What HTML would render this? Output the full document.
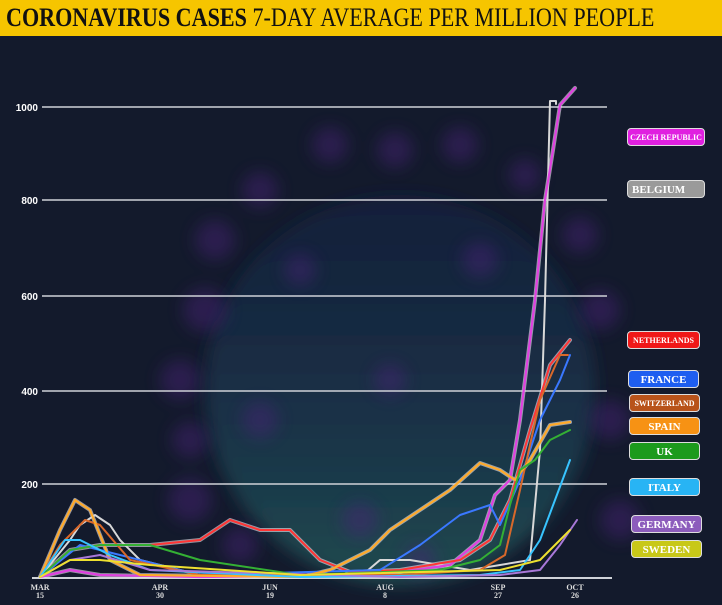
<!DOCTYPE html>
<html><head><style>
html,body{margin:0;padding:0;width:722px;height:605px;overflow:hidden;background:#131a2c;}
.hdr{position:absolute;left:0;top:0;width:722px;height:36px;background:#f6c500;font-family:"Liberation Serif",serif;white-space:nowrap;}
.hdr span{position:absolute;top:3px;font-size:26px;color:#111;transform:scaleX(0.85);transform-origin:left top;}
.lg{position:absolute;height:18px;border-radius:4px;border:1.5px solid #ddd;color:#fff;font:bold 11px "Liberation Serif",serif;text-align:center;line-height:18px;box-sizing:border-box;}
</style></head><body>
<svg width="722" height="605" style="position:absolute;left:0;top:0">
<defs>
<linearGradient id="vt" x1="0" y1="0" x2="0" y2="1">
<stop offset="0" stop-color="#162448" stop-opacity="0.5"/>
<stop offset="0.55" stop-color="#1c4058" stop-opacity="0.6"/>
<stop offset="1" stop-color="#25605f" stop-opacity="0.7"/>
</linearGradient>
<filter id="b"><feGaussianBlur stdDeviation="8"/></filter>
</defs>
<rect x="0" y="36" width="722" height="569" fill="#131a2c"/>
<circle cx="400" cy="390" r="195" fill="url(#vt)" filter="url(#b)"/>
<g fill="#4a2378" opacity="0.45" filter="url(#b)">
<circle cx="330" cy="145" r="18"/><circle cx="395" cy="150" r="18"/><circle cx="460" cy="145" r="18"/>
<circle cx="260" cy="190" r="18"/><circle cx="525" cy="175" r="16"/><circle cx="215" cy="240" r="20"/>
<circle cx="580" cy="235" r="18"/><circle cx="205" cy="310" r="22"/><circle cx="600" cy="310" r="20"/>
<circle cx="180" cy="380" r="20"/><circle cx="190" cy="440" r="18"/><circle cx="610" cy="420" r="20"/>
<circle cx="190" cy="500" r="22"/><circle cx="240" cy="545" r="18"/><circle cx="620" cy="520" r="20"/>
<circle cx="300" cy="270" r="16"/><circle cx="480" cy="260" r="18"/><circle cx="390" cy="380" r="16"/>
<circle cx="260" cy="420" r="18"/><circle cx="360" cy="520" r="18"/><circle cx="420" cy="560" r="16"/>
</g>
<g stroke="#cfd2d8" stroke-width="1.5">
<line x1="42" y1="107" x2="607" y2="107"/><line x1="42" y1="200" x2="607" y2="200"/>
<line x1="42" y1="296" x2="607" y2="296"/><line x1="42" y1="391" x2="607" y2="391"/>
<line x1="42" y1="484" x2="607" y2="484"/><line x1="32" y1="578" x2="612" y2="578" stroke-width="2"/>
</g>
<g font-family="Liberation Sans,sans-serif" font-weight="bold" font-size="10" fill="#fff" text-anchor="end">
<text x="38" y="111">1000</text><text x="38" y="204">800</text><text x="38" y="300">600</text>
<text x="38" y="395">400</text><text x="38" y="488">200</text>
</g>
<g font-family="Liberation Serif,serif" font-weight="bold" font-size="8" fill="#ddd" text-anchor="middle">
<text x="40" y="590">MAR</text><text x="40" y="598">15</text>
<text x="160" y="590">APR</text><text x="160" y="598">30</text>
<text x="270" y="590">JUN</text><text x="270" y="598">19</text>
<text x="385" y="590">AUG</text><text x="385" y="598">8</text>
<text x="498" y="590">SEP</text><text x="498" y="598">27</text>
<text x="575" y="590">OCT</text><text x="575" y="598">26</text>
</g>
<g fill="none" stroke-linejoin="round" stroke-linecap="round">
<g stroke="#e8e8f0" stroke-width="4" opacity="0.6">
<polyline points="40,577 70,570 100,575 200,577 380,575 450,565 480,540 495,495 510,480 520,420 535,300 545,200 553,150 560,105 575,88"/>
<polyline points="40,577 70,550 100,545 150,545 200,540 230,520 260,530 290,530 320,560 350,572 400,570 460,560 490,540 510,500 530,430 550,365 570,340"/>
<polyline points="40,577 60,530 75,500 90,510 110,560 140,575 300,577 330,570 370,550 390,530 420,510 450,490 480,463 500,470 515,480 530,460 550,425 570,422"/>
</g>
<polyline stroke="#d8d8d8" stroke-width="2" points="40,577 70,540 80,525 95,515 110,525 120,540 140,560 200,575 360,577 380,560 410,560 470,570 530,560 540,450 545,300 550,101 556,101 556,104"/>
<polyline stroke="#e040e0" stroke-width="2.2" points="40,577 70,570 100,575 200,577 380,575 450,565 480,540 495,495 510,480 520,420 535,300 545,200 553,150 560,105 575,88"/>
<polyline stroke="#ff3535" stroke-width="2" points="40,577 70,550 100,545 150,545 200,540 230,520 260,530 290,530 320,560 350,572 400,570 460,560 490,540 510,500 530,430 550,365 570,340"/>
<polyline stroke="#3a78ff" stroke-width="2" points="40,577 80,545 120,555 200,575 380,570 420,545 460,515 490,505 500,525 520,480 540,420 560,380 570,355"/>
<polyline stroke="#d8682a" stroke-width="2" points="40,577 60,545 85,520 100,525 130,560 200,575 400,575 480,570 505,555 520,490 540,400 560,355 568,355"/>
<polyline stroke="#ffaa2a" stroke-width="2.2" points="40,577 60,530 75,500 90,510 110,560 140,575 300,577 330,570 370,550 390,530 420,510 450,490 480,463 500,470 515,480 530,460 550,425 570,422"/>
<polyline stroke="#34b034" stroke-width="2" points="40,577 70,550 100,545 150,545 200,560 300,575 440,570 480,560 500,545 510,505 520,470 535,460 550,440 570,430"/>
<polyline stroke="#38c4ff" stroke-width="2" points="40,577 65,540 80,540 110,555 150,570 300,577 480,575 520,570 540,540 555,500 570,460"/>
<polyline stroke="#a878d8" stroke-width="2" points="40,577 70,560 100,555 150,570 400,577 500,575 540,570 560,545 577,520"/>
<polyline stroke="#eee030" stroke-width="2" points="40,577 70,560 100,560 150,565 300,575 500,570 540,560 560,540 570,530"/>
</g>
</svg>
<div class="hdr"><span style="left:6px;font-weight:bold;">CORONAVIRUS CASES <span style="position:static;font-weight:normal;">7-DAY AVERAGE PER MILLION PEOPLE</span></span></div>
<div class="lg" style="left:627px;top:128px;width:78px;background:#e020e0;font-size:8px;">CZECH REPUBLIC</div>
<div class="lg" style="left:627px;top:180px;width:78px;background:#9a9a9a;text-align:left;padding-left:4px;">BELGIUM</div>
<div class="lg" style="left:627px;top:331px;width:73px;background:#f01818;font-size:8px;">NETHERLANDS</div>
<div class="lg" style="left:628px;top:370px;width:71px;background:#1e5ef0;">FRANCE</div>
<div class="lg" style="left:629px;top:394px;width:71px;background:#b8531a;font-size:8px;">SWITZERLAND</div>
<div class="lg" style="left:629px;top:417px;width:71px;background:#f79214;">SPAIN</div>
<div class="lg" style="left:629px;top:442px;width:71px;background:#1c9a1c;">UK</div>
<div class="lg" style="left:629px;top:478px;width:71px;background:#28b4f4;">ITALY</div>
<div class="lg" style="left:631px;top:515px;width:71px;background:#8c5cbc;">GERMANY</div>
<div class="lg" style="left:631px;top:540px;width:71px;background:#c8c818;">SWEDEN</div>
</body></html>
